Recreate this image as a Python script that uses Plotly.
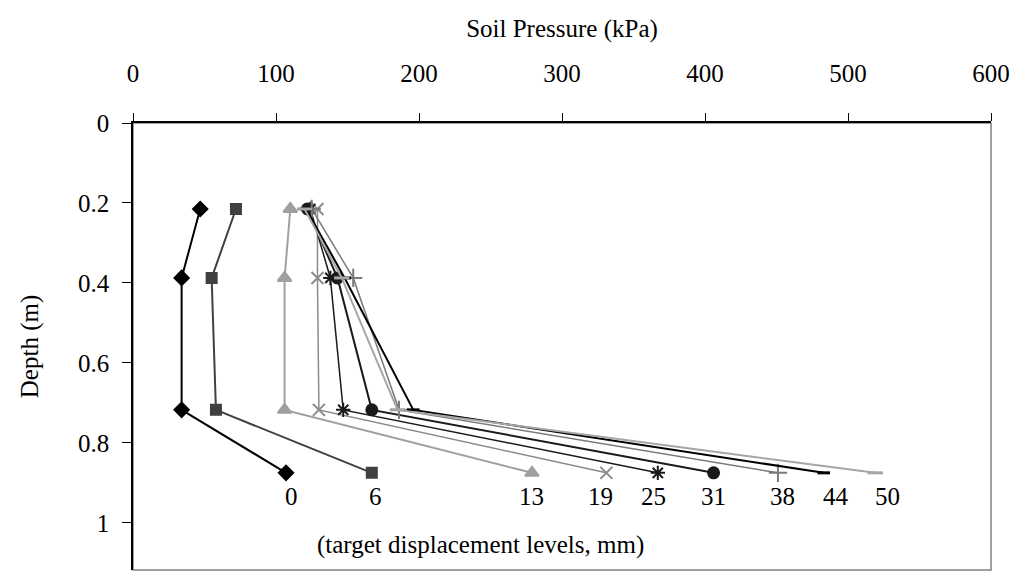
import plotly.graph_objects as go

# sensor depths (m)
depth = [0.215, 0.3875, 0.7175, 0.875]

# target displacement levels (mm)
levels = ["0", "6", "13", "19", "25", "31", "38", "44", "50"]

# soil pressure (kPa) at each depth, one list per displacement level
p_0 = [47, 34, 34, 107]
p_6 = [72, 55, 58, 167]
p_13 = [110, 106, 106, 279]
p_19 = [129, 129, 130, 331]
p_25 = [124, 138, 147, 367]
p_31 = [122, 143, 167, 406]
p_38 = [125, 154, 186, 451]
p_44 = [121, 148, 196, 483]
p_50 = [120, 146, 185, 519]

pressures = [p_0, p_6, p_13, p_19, p_25, p_31, p_38, p_44, p_50]

styles = [
    dict(color="#000000", symbol="diamond", size=11, lw=2),
    dict(color="#404040", symbol="square", size=10, lw=2),
    dict(color="#a0a0a0", symbol="triangle-up", size=12, lw=2),
    dict(color="#8a8a8a", symbol="x-thin", size=12, lw=1.5),
    dict(color="#1a1a1a", symbol="asterisk", size=12, lw=1.5),
    dict(color="#1a1a1a", symbol="circle", size=11, lw=2),
    dict(color="#7a7a7a", symbol="cross-thin", size=13, lw=1.5),
    dict(color="#000000", symbol="line-ew", size=9, lw=2),
    dict(color="#a6a6a6", symbol="line-ew", size=11, lw=2),
]
# small horizontal nudges (px) so the labels don't collide
label_nudge = [5, 4, 0, -6, -4, 0, 5, 12, 12]

FONT = "Liberation Serif"
FS = 25

fig = go.Figure()
for lev, p, st, dx in zip(levels, pressures, styles, label_nudge):
    fig.add_trace(go.Scatter(
        x=p, y=depth, mode="lines+markers", name=lev,
        line=dict(color=st["color"], width=st["lw"]),
        marker=dict(symbol=st["symbol"], size=st["size"], color=st["color"],
                    line=dict(color=st["color"], width=3 if st["symbol"] == "line-ew" else 2)),
        showlegend=False,
    ))
    # level label under the deepest point
    fig.add_annotation(x=p[-1], y=depth[-1], text=lev, showarrow=False,
                       yshift=-24, xshift=dx, font=dict(family=FONT, size=FS, color="black"))

fig.add_annotation(x=0.405, xref="paper", y=1.055, yref="y",
                   text="(target displacement levels, mm)", showarrow=False,
                   font=dict(family=FONT, size=FS, color="black"))

# plot-area frame (right and bottom in grey like Excel)
fig.add_shape(type="rect", xref="paper", yref="paper", x0=0, x1=1, y0=0, y1=1,
              line=dict(color="#808080", width=1.5), layer="below")

fig.update_xaxes(range=[0, 600], side="top", dtick=100, ticks="outside", ticklen=8,
                 tickcolor="black", showline=True, linecolor="black", linewidth=1.5,
                 showgrid=False, zeroline=False, ticklabelstandoff=21,
                 title=dict(text="Soil Pressure (kPa)", standoff=16,
                            font=dict(family=FONT, size=FS, color="black")),
                 tickfont=dict(family=FONT, size=FS, color="black"))
fig.update_yaxes(range=[1.118, 0], tickvals=[0, 0.2, 0.4, 0.6, 0.8, 1],
                 ticktext=["0", "0.2", "0.4", "0.6", "0.8", "1"],
                 ticks="outside", ticklen=9, tickcolor="black",
                 showline=True, linecolor="black", linewidth=1.5,
                 showgrid=False, zeroline=False, ticklabelstandoff=8,
                 title=dict(text="Depth (m)", standoff=32,
                            font=dict(family=FONT, size=FS, color="black")),
                 tickfont=dict(family=FONT, size=FS, color="black"))

# page body has an 8px margin, so the figure is a little smaller than the window
fig.update_layout(width=1011, height=565, plot_bgcolor="white", paper_bgcolor="white",
                  margin=dict(l=125, r=28, t=115, b=3),
                  font=dict(family=FONT, size=FS, color="black"))

fig.write_html("out.html")
